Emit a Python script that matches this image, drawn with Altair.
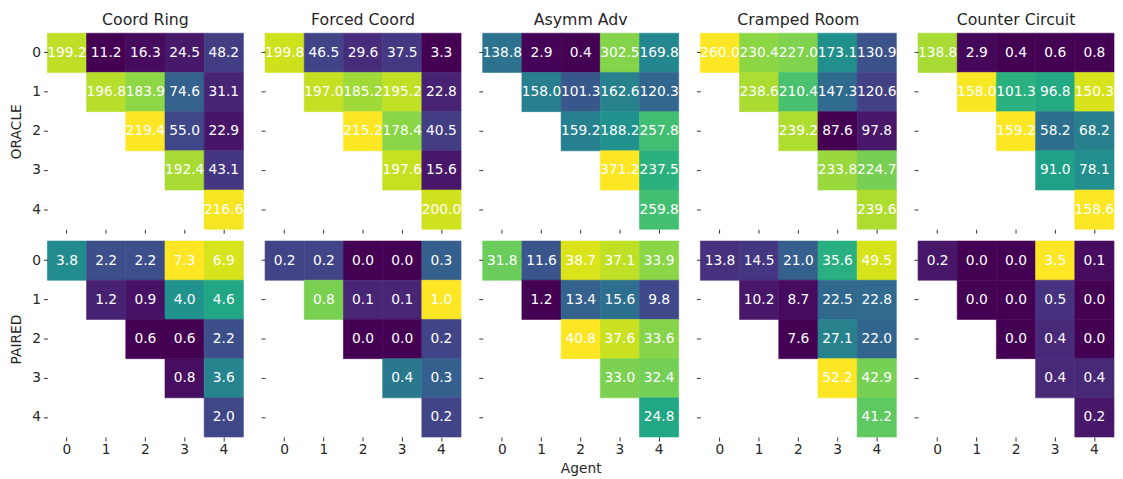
import altair as alt
import pandas as pd

agents = [0, 1, 2, 3, 4]
layouts = ["Coord Ring", "Forced Coord", "Asymm Adv", "Cramped Room", "Counter Circuit"]
methods = ["ORACLE", "PAIRED"]

# upper-triangular rows (row i holds columns i..4)
coord_ring_oracle = [[199.2, 11.2, 16.3, 24.5, 48.2], [196.8, 183.9, 74.6, 31.1], [219.4, 55.0, 22.9], [192.4, 43.1], [216.6]]
forced_coord_oracle = [[199.8, 46.5, 29.6, 37.5, 3.3], [197.0, 185.2, 195.2, 22.8], [215.2, 178.4, 40.5], [197.6, 15.6], [200.0]]
asymm_adv_oracle = [[138.8, 2.9, 0.4, 302.5, 169.8], [158.0, 101.3, 162.6, 120.3], [159.2, 188.2, 257.8], [371.2, 237.5], [259.8]]
cramped_room_oracle = [[260.0, 230.4, 227.0, 173.1, 130.9], [238.6, 210.4, 147.3, 120.6], [239.2, 87.6, 97.8], [233.8, 224.7], [239.6]]
counter_circuit_oracle = [[138.8, 2.9, 0.4, 0.6, 0.8], [158.0, 101.3, 96.8, 150.3], [159.2, 58.2, 68.2], [91.0, 78.1], [158.6]]

coord_ring_paired = [[3.8, 2.2, 2.2, 7.3, 6.9], [1.2, 0.9, 4.0, 4.6], [0.6, 0.6, 2.2], [0.8, 3.6], [2.0]]
forced_coord_paired = [[0.2, 0.2, 0.0, 0.0, 0.3], [0.8, 0.1, 0.1, 1.0], [0.0, 0.0, 0.2], [0.4, 0.3], [0.2]]
asymm_adv_paired = [[31.8, 11.6, 38.7, 37.1, 33.9], [1.2, 13.4, 15.6, 9.8], [40.8, 37.6, 33.6], [33.0, 32.4], [24.8]]
cramped_room_paired = [[13.8, 14.5, 21.0, 35.6, 49.5], [10.2, 8.7, 22.5, 22.8], [7.6, 27.1, 22.0], [52.2, 42.9], [41.2]]
counter_circuit_paired = [[0.2, 0.0, 0.0, 3.5, 0.1], [0.0, 0.0, 0.5, 0.0], [0.0, 0.4, 0.0], [0.4, 0.4], [0.2]]

tables = {
    "ORACLE": [coord_ring_oracle, forced_coord_oracle, asymm_adv_oracle, cramped_room_oracle, counter_circuit_oracle],
    "PAIRED": [coord_ring_paired, forced_coord_paired, asymm_adv_paired, cramped_room_paired, counter_circuit_paired],
}

FONT = "DejaVu Sans"
TXT = "#262626"


def make_df(tri):
    recs = []
    for i, rowvals in enumerate(tri):
        for k, v in enumerate(rowvals):
            recs.append({"row": i, "col": i + k, "value": v})
    return pd.DataFrame(recs)


def panel(mi, li):
    df = make_df(tables[methods[mi]][li])
    bottom = mi == 1
    left = li == 0
    if bottom:
        if li == 2:
            xaxis = alt.Axis(labelAngle=0, title="Agent", labelPadding=2, titlePadding=5)
        else:
            xaxis = alt.Axis(labelAngle=0, title=None, labelPadding=2)
    else:
        xaxis = alt.Axis(labels=False, title=None)
    if left:
        yaxis = alt.Axis(title=methods[mi], labelAngle=0, labelPadding=3, titlePadding=8)
    else:
        yaxis = alt.Axis(labels=False, title=None)
    xs = alt.Scale(domain=agents, paddingInner=0, paddingOuter=0)
    ys = alt.Scale(domain=agents, paddingInner=0, paddingOuter=0)
    cscale = alt.Scale(scheme="viridis", zero=False, nice=False)
    base = alt.Chart(df)
    rect = base.mark_rect(strokeWidth=0.6).encode(
        x=alt.X("col:O", scale=xs, axis=xaxis),
        y=alt.Y("row:O", scale=ys, axis=yaxis),
        color=alt.Color("value:Q", scale=cscale, legend=None),
        stroke=alt.Stroke("value:Q", scale=cscale, legend=None),
    )
    text = base.mark_text(color="white", fontSize=14, font=FONT).encode(
        x=alt.X("col:O", scale=xs),
        y=alt.Y("row:O", scale=ys),
        text=alt.Text("value:Q", format=".1f"),
    )
    ch = alt.layer(rect, text).properties(width=199, height=199)
    if mi == 0:
        ch = ch.properties(title=alt.TitleParams(layouts[li], fontSize=16, fontWeight="normal", font=FONT, color=TXT, offset=5))
    return ch


rows = []
for mi in range(2):
    rows.append(
        alt.hconcat(*[panel(mi, li) for li in range(5)], spacing=16).resolve_scale(color="independent", stroke="independent")
    )

chart = alt.vconcat(*rows, spacing=6).resolve_scale(color="independent", stroke="independent").properties(
    padding={"left": 2, "top": 0, "right": 0, "bottom": 0}
).configure_view(
    stroke=None
).configure_axis(
    domain=False,
    grid=False,
    tickColor="#333333",
    tickSize=4,
    labelFont=FONT,
    labelFontSize=14,
    labelColor=TXT,
    titleFont=FONT,
    titleFontSize=14,
    titleFontWeight="normal",
    titleColor=TXT,
)

chart.save("out.html", embed_options={"renderer": "svg", "actions": False})
